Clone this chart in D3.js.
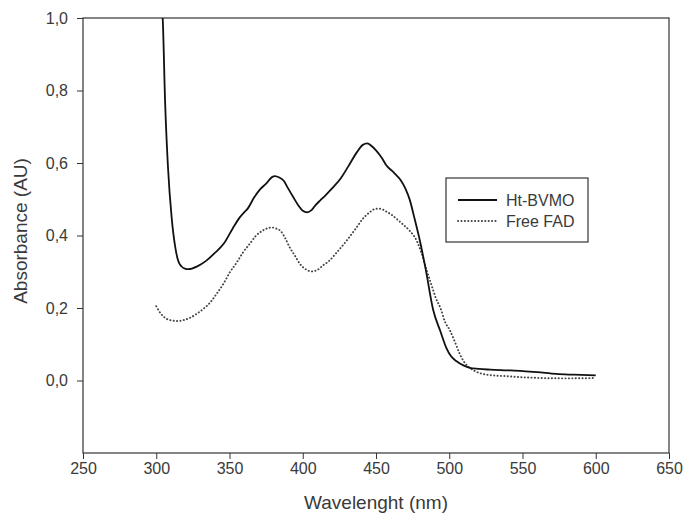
<!DOCTYPE html>
<html>
<head>
<meta charset="utf-8">
<script src="https://cdn.jsdelivr.net/npm/d3@7"></script>
<style>
  body { margin: 0; background: #fff; }
  svg { font-family: "Liberation Sans", Arial, sans-serif; }
  .axis text { fill: #3a3a3a; font-size: 16px; }
  .axis path, .axis line { stroke: #333; }
</style>
</head>
<body>
<svg width="690" height="513"></svg>
<script>
// Ht-BVMO spectrum [wavelength nm, absorbance]
var htBvmo = [
  [303, 1.06], [304.5, 0.99], [306, 0.774], [308, 0.589], [310.5, 0.45], [313, 0.367],
  [316, 0.321], [320, 0.308], [322, 0.307], [328, 0.315], [334, 0.330], [340, 0.352],
  [346, 0.377], [352, 0.418], [357, 0.450], [360, 0.464], [362, 0.472], [367, 0.506],
  [371, 0.528], [375, 0.543], [379, 0.561], [381, 0.564], [384, 0.560], [387, 0.551],
  [390, 0.530], [393.5, 0.506], [397, 0.483], [400, 0.468], [403, 0.464], [406, 0.470],
  [409, 0.485], [412, 0.497], [416, 0.513], [420, 0.530], [426, 0.558], [431, 0.590],
  [437, 0.630], [441, 0.650], [444, 0.654], [447, 0.647], [450, 0.635], [454, 0.614],
  [457, 0.594], [461, 0.578], [464, 0.566], [467, 0.552], [470, 0.530], [473, 0.499],
  [476, 0.452], [480, 0.385], [484, 0.305], [489, 0.195], [494, 0.135], [498, 0.090],
  [501, 0.068], [505, 0.053], [510, 0.041], [514, 0.035], [520, 0.032], [528, 0.030],
  [540, 0.028], [550, 0.026], [560, 0.023], [573, 0.018], [585, 0.016], [600, 0.014]
];

// free FAD spectrum
var freeFad = [
  [300, 0.205], [303, 0.185], [306, 0.173], [310, 0.166], [315, 0.164], [319, 0.167],
  [323, 0.173], [328, 0.185], [332, 0.197], [337, 0.216], [341, 0.238], [346, 0.268],
  [350, 0.297], [355, 0.326], [359, 0.352], [364, 0.378], [368, 0.399], [372, 0.412],
  [376, 0.420], [379, 0.422], [382, 0.419], [385, 0.412], [388, 0.393], [391, 0.368],
  [395, 0.342], [398, 0.322], [402, 0.307], [406, 0.301], [410, 0.305], [414, 0.318],
  [418, 0.330], [424, 0.357], [430, 0.386], [436, 0.418], [441, 0.446], [446, 0.465],
  [450, 0.474], [453, 0.474], [457, 0.466], [460, 0.459], [464, 0.446], [468, 0.432],
  [473, 0.413], [478, 0.384], [481, 0.352], [484.5, 0.305], [488, 0.262], [491, 0.226],
  [494, 0.200], [497, 0.163], [500.5, 0.138], [504, 0.105], [507, 0.075], [510, 0.052],
  [514, 0.035], [518, 0.025], [523, 0.018], [530, 0.014], [539, 0.012], [550, 0.009],
  [562, 0.007], [575, 0.006], [585, 0.006], [600, 0.007]
];

var xTicks = [250, 300, 350, 400, 450, 500, 550, 600, 650],
    yTicks = [0.0, 0.2, 0.4, 0.6, 0.8, 1.0];

var seriesNames = ['Ht-BVMO', 'Free FAD'];

var svg = d3.select('svg'),
    pL = 83, pR = 669, pT = 18, pB = 453;

var x = d3.scaleLinear().domain([250, 650]).range([pL, pR]),
    y = d3.scaleLinear().domain([-0.2, 1.0]).range([pB, pT]);

var comma = d3.formatLocale({decimal: ',', thousands: '.', grouping: [3], currency: ['', '']}).format('.1f');

var dots = '0.2,3.2';

svg.append('defs').append('clipPath').attr('id', 'plot')
  .append('rect').attr('x', pL).attr('y', pT)
  .attr('width', pR - pL).attr('height', pB - pT);

// frame
svg.append('rect')
  .attr('x', pL).attr('y', pT)
  .attr('width', pR - pL).attr('height', pB - pT)
  .attr('fill', 'none').attr('stroke', '#333').attr('stroke-width', 1.2);

svg.append('g').attr('class', 'axis')
  .attr('transform', 'translate(0,' + pB + ')')
  .call(d3.axisBottom(x).tickValues(xTicks).tickSize(6).tickPadding(4).tickFormat(d3.format('d')))
  .call(function(g){ g.select('.domain').remove(); });

svg.append('g').attr('class', 'axis')
  .attr('transform', 'translate(' + pL + ',0)')
  .call(d3.axisLeft(y).tickValues(yTicks).tickSize(6).tickPadding(9).tickFormat(comma))
  .call(function(g){ g.select('.domain').remove(); });

var line = d3.line()
  .x(function(d){ return x(d[0]); })
  .y(function(d){ return y(d[1]); })
  .curve(d3.curveMonotoneX);

var plot = svg.append('g').attr('clip-path', 'url(#plot)');

plot.append('path').datum(freeFad)
  .attr('d', line).attr('fill', 'none')
  .attr('stroke', '#444').attr('stroke-width', 1.9)
  .attr('stroke-dasharray', dots).attr('stroke-linecap', 'round');

plot.append('path').datum(htBvmo)
  .attr('d', line).attr('fill', 'none')
  .attr('stroke', '#111').attr('stroke-width', 1.8);

// axis titles
svg.append('text')
  .attr('x', (pL + pR) / 2).attr('y', 509)
  .attr('text-anchor', 'middle').attr('fill', '#3a3a3a').attr('font-size', 19)
  .text('Wavelenght (nm)');

svg.append('text')
  .attr('transform', 'translate(27,231) rotate(-90)')
  .attr('text-anchor', 'middle').attr('fill', '#3a3a3a').attr('font-size', 19)
  .text('Absorbance (AU)');

// legend
var legend = svg.append('g');
legend.append('rect')
  .attr('x', 446).attr('y', 178).attr('width', 142).attr('height', 64)
  .attr('fill', '#fff').attr('stroke', '#333').attr('stroke-width', 1.2);

seriesNames.forEach(function(name, i){
  var ly = 200 + i * 21;
  legend.append('line')
    .attr('x1', 458).attr('x2', 497).attr('y1', ly).attr('y2', ly)
    .attr('stroke', i === 0 ? '#111' : '#444')
    .attr('stroke-width', i === 0 ? 1.8 : 1.9)
    .attr('stroke-dasharray', i === 0 ? null : dots)
    .attr('stroke-linecap', i === 0 ? null : 'round');
  legend.append('text')
    .attr('x', 506).attr('y', ly + 6)
    .attr('fill', '#3a3a3a').attr('font-size', 16)
    .text(name);
});
</script>
</body>
</html>
